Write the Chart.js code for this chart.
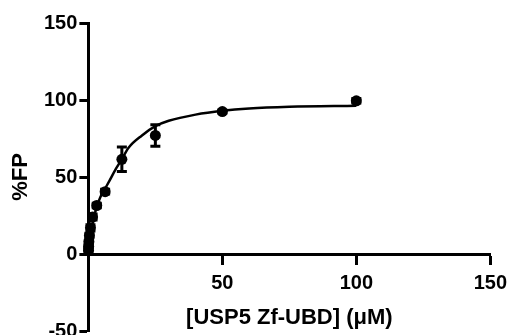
<!DOCTYPE html>
<html>
<head>
<meta charset="utf-8">
<script src="https://cdn.jsdelivr.net/npm/chart.js@4/dist/chart.umd.min.js"></script>
<style>
  html, body { margin: 0; padding: 0; width: 508px; height: 335px; overflow: hidden; background: #fff; }
  #chart-parent { position: relative; width: 508px; height: 346px; }
</style>
</head>
<body>
<div id="chart-parent"><canvas id="myChart"></canvas></div>
<script>
// measured points (mean +/- error)
var concentration = [100, 50, 25, 12.5, 6.25, 3.125, 1.5625, 0.78, 0.39, 0.195, 0.098, 0.049];
var fpMean = [99.5, 92.5, 77, 61.5, 40.5, 31.5, 24, 17, 12, 8, 5, 2.5];
var fpErr = [1.5, 1, 7, 8, 1.5, 1.5, 2, 2, 1.5, 1, 1, 1];

// fitted curve
var fitX = [0, 0.5, 1, 2, 3, 4.5, 6.25, 8, 10, 12.5, 15, 20, 25, 30, 40, 50, 60, 75, 100];
var fitY = [0, 8, 14, 23, 30, 37, 42.5, 48, 54.5, 61.5, 69, 77, 83, 86.5, 90.5, 93, 94.5, 95.6, 96.3];

var tickFont = "'Liberation Sans', Arial, sans-serif";

var errorBars = {
  id: 'errorBars',
  afterDatasetsDraw: function(chart) {
    var ctx = chart.ctx;
    var xs = chart.scales.x, ys = chart.scales.y;
    ctx.save();
    ctx.strokeStyle = '#000';
    ctx.lineWidth = 3;
    for (var i = 0; i < concentration.length; i++) {
      var px = xs.getPixelForValue(concentration[i]);
      var top = ys.getPixelForValue(fpMean[i] + fpErr[i]);
      var bot = ys.getPixelForValue(fpMean[i] - fpErr[i]);
      ctx.beginPath();
      ctx.moveTo(px, top); ctx.lineTo(px, bot);
      ctx.moveTo(px - 5, top); ctx.lineTo(px + 5, top);
      ctx.moveTo(px - 5, bot); ctx.lineTo(px + 5, bot);
      ctx.stroke();
    }
    ctx.restore();
  }
};

var chart = new Chart(document.getElementById('myChart'), {
  type: 'scatter',
  data: {
    datasets: [
      {
        type: 'line',
        label: 'fit',
        data: fitX.map(function(x, i) { return {x: x, y: fitY[i]}; }),
        borderColor: '#000',
        borderWidth: 2.5,
        pointRadius: 0,
        fill: false,
        cubicInterpolationMode: 'monotone',
        clip: false
      },
      {
        label: '%FP',
        data: concentration.map(function(x, i) { return {x: x, y: fpMean[i]}; }),
        backgroundColor: '#000',
        borderColor: '#000',
        pointRadius: 5.5,
        pointBorderWidth: 0,
        clip: false
      }
    ]
  },
  options: {
    responsive: true,
    maintainAspectRatio: false,
    animation: false,
    layout: { padding: { left: 4, right: 10, top: 23, bottom: 15 } },
    plugins: { legend: { display: false }, tooltip: { enabled: false } },
    scales: {
      x: {
        type: 'linear',
        position: { y: 0 },
        min: 0,
        max: 150,
        ticks: {
          stepSize: 50,
          maxRotation: 0,
          padding: 1,
          color: '#000',
          font: { family: tickFont, size: 20, weight: 'bold', lineHeight: 1.9 },
          callback: function(v) { return v === 0 ? '' : v; }
        },
        grid: { drawOnChartArea: false, drawTicks: true, tickLength: 9, tickWidth: 3, color: '#000' },
        border: { display: true, color: '#000', width: 3 },
        title: {
          display: true,
          text: '[USP5 Zf-UBD] (\u03bcM)',
          color: '#000',
          font: { family: tickFont, size: 22, weight: 'bold', lineHeight: 1 },
          padding: { top: 4, bottom: 0 }
        }
      },
      y: {
        type: 'linear',
        position: 'left',
        min: -50,
        max: 150,
        ticks: {
          stepSize: 50,
          padding: 2,
          color: '#000',
          font: { family: tickFont, size: 20, weight: 'bold', lineHeight: 1 }
        },
        grid: { drawOnChartArea: false, drawTicks: true, tickLength: 9, tickWidth: 3, color: '#000' },
        border: { display: true, color: '#000', width: 3 },
        title: {
          display: true,
          text: '%FP',
          color: '#000',
          font: { family: tickFont, size: 22, weight: 'bold', lineHeight: 1 },
          padding: { top: 6, bottom: 10 }
        }
      }
    }
  },
  plugins: [errorBars]
});
</script>
</body>
</html>
